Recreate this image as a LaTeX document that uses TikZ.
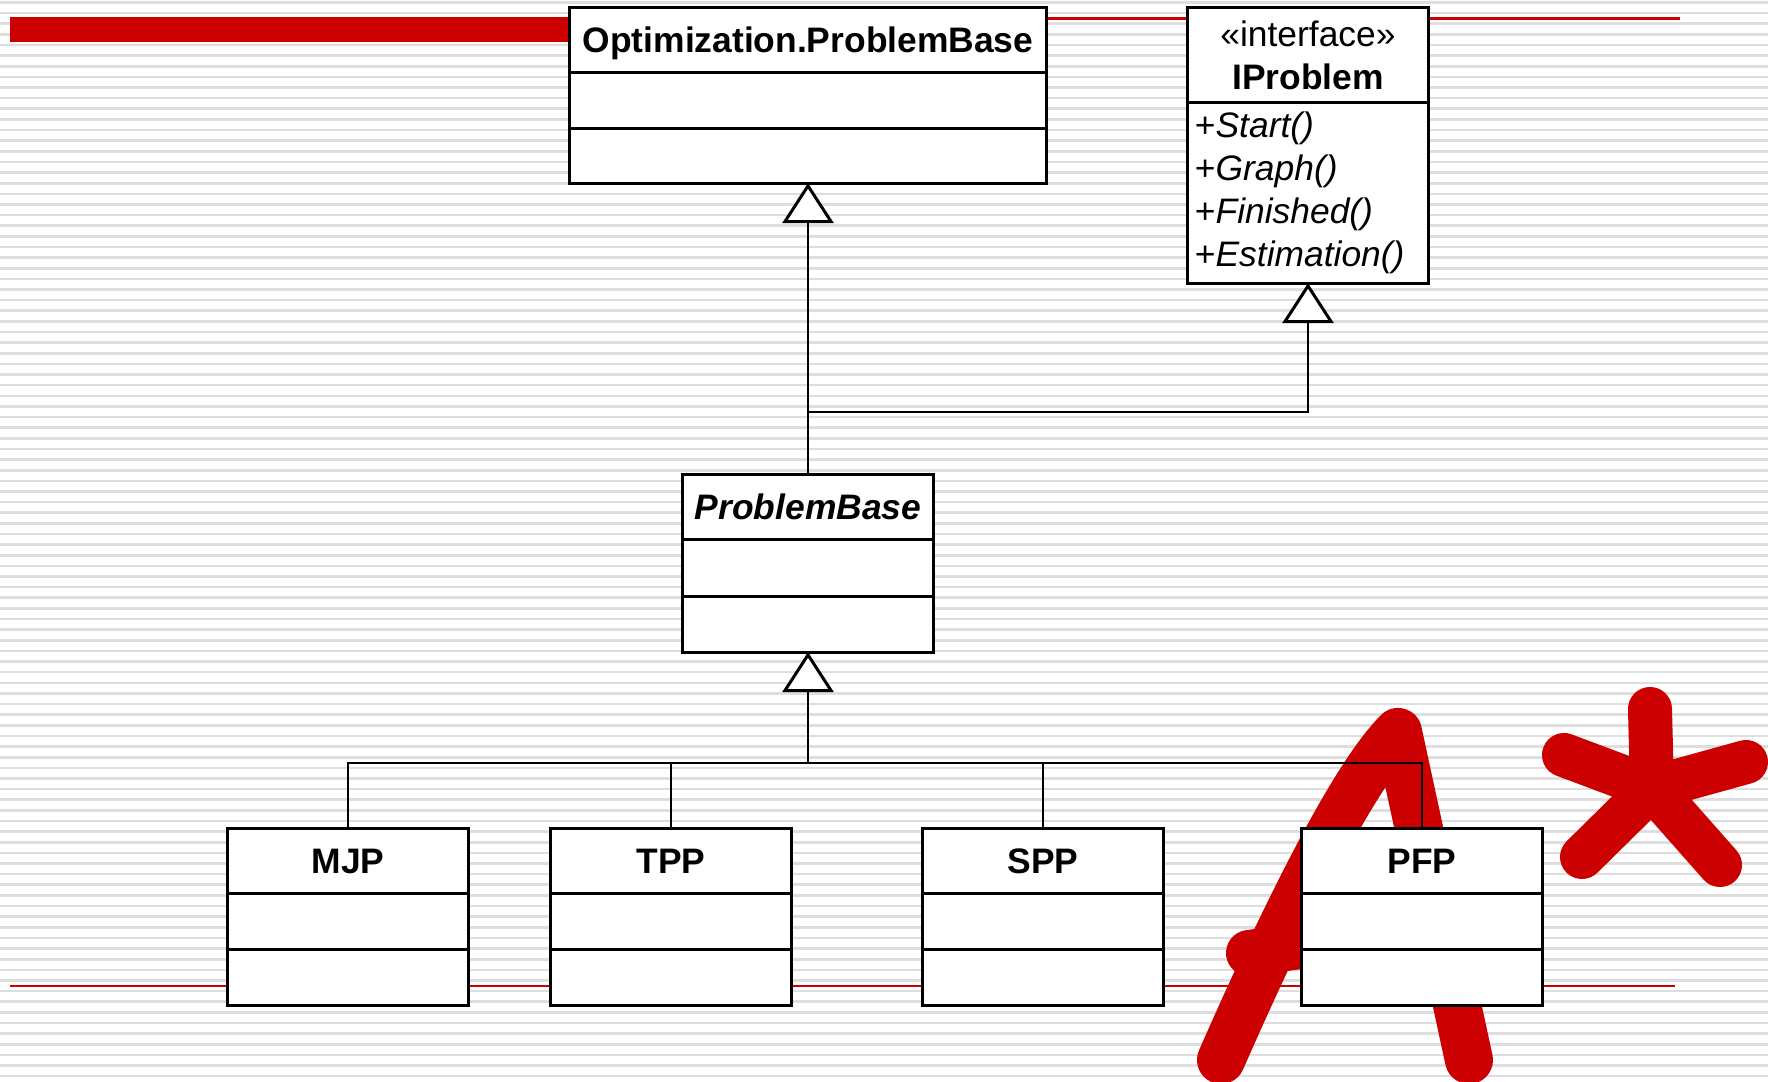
\documentclass[tikz,border=0pt]{standalone}
\usepackage{fontspec}
\setmainfont{Liberation Sans}
\usetikzlibrary{arrows.meta, positioning}
\definecolor{pptred}{RGB}{204,0,0}
\newcommand{\umlsize}{\fontsize{10.07pt}{12.2pt}\selectfont}
\tikzset{
    umlhead/.style={draw, fill=white, line width=0.03cm, inner sep=0pt, outer sep=0pt,
        minimum height=0.64cm, text depth=0pt, font=\umlsize\bfseries},
    umlpart/.style={draw, fill=white, line width=0.03cm, inner sep=0pt, outer sep=0pt,
        minimum height=0.56cm, font=\umlsize},
    link/.style={line width=0.02cm},
    gen/.style={link, -{Triangle[length=0.40cm, width=0.51cm, fill=white, line width'=0.03cm]}},
    marker/.style={draw=pptred, line width=0.44cm, line cap=round, line join=round},
    stripe/.style={draw=black!13, line width=0.026cm}
}

\begin{document}
\begin{tikzpicture}[x=0.01cm, y=-0.01cm]
        \useasboundingbox (0,0) rectangle (1768,1082);
        \fill[white] (0,0) rectangle (1768,1082);
        \foreach \k in {0,...,101}
            \draw[stripe] (0,{2.5+10.63*\k}) -- (1768,{2.5+10.63*\k});
        % title bar and the two rules
        \fill[pptred] (10,17) rectangle (600,42);
        \draw[pptred, line width=0.025cm] (600,18.5) -- (1680,18.5);
        \draw[pptred, line width=0.025cm] (10,986) -- (1675,986);
        % hand drawn A*
        \draw[marker, line width=0.48cm] (1221,1060) .. controls (1300,880) and (1360,770) .. (1398,732) -- (1469,1060);
        \draw[marker, line width=0.46cm] (1249,953) -- (1330,942);
        \draw[marker] (1652,788) -- (1650,709) (1652,788) -- (1746,762)
            (1652,788) -- (1564,755) (1652,788) -- (1582,857) (1652,788) -- (1720,865);

        \node[umlhead, minimum width=4.76cm] (opt) at (808,40) {Optimization.ProblemBase};
        \node[umlpart, minimum width=4.76cm, below=0pt of opt] (opt-a) {};
        \node[umlpart, minimum width=4.76cm, minimum height=0.55cm, below=0pt of opt-a] (opt-o) {};

        \node[umlhead, minimum width=2.4cm, minimum height=0.94cm, align=center] (iprob) at (1308,55)
            {{\mdseries «interface»}\\IProblem};
        \node[umlpart, minimum width=2.4cm, minimum height=1.81cm, text width=2.26cm, inner xsep=0.07cm,
            align=left, below=0pt of iprob] (iprob-m)
            {+\textit{Start()}\\+\textit{Graph()}\\+\textit{Finished()}\\+\textit{Estimation()}};

        \node[umlhead, minimum width=2.5cm] (pbase) at (808,507) {\itshape ProblemBase};
        \node[umlpart, minimum width=2.5cm, minimum height=0.57cm, below=0pt of pbase] (pbase-a) {};
        \node[umlpart, minimum width=2.5cm, below=0pt of pbase-a] (pbase-o) {};

        \node[umlhead, minimum width=2.4cm] (mjp) at (348,861) {MJP};
        \node[umlpart, minimum width=2.4cm, below=0pt of mjp] (mjp-a) {};
        \node[umlpart, minimum width=2.4cm, below=0pt of mjp-a] (mjp-o) {};
        \node[umlhead, minimum width=2.4cm] (tpp) at (671,861) {TPP};
        \node[umlpart, minimum width=2.4cm, below=0pt of tpp] (tpp-a) {};
        \node[umlpart, minimum width=2.4cm, below=0pt of tpp-a] (tpp-o) {};
        \node[umlhead, minimum width=2.4cm] (spp) at (1043,861) {SPP};
        \node[umlpart, minimum width=2.4cm, below=0pt of spp] (spp-a) {};
        \node[umlpart, minimum width=2.4cm, below=0pt of spp-a] (spp-o) {};
        \node[umlhead, minimum width=2.4cm] (pfp) at (1422,861) {PFP};
        \node[umlpart, minimum width=2.4cm, below=0pt of pfp] (pfp-a) {};
        \node[umlpart, minimum width=2.4cm, below=0pt of pfp-a] (pfp-o) {};

        % generalisations
        \coordinate (fork) at (808,412);
        \coordinate (bus) at (808,763);
        \draw[gen] (pbase.north) -- (opt-o.south);
        \draw[gen] (fork) -| (iprob-m.south);
        \draw[gen] (bus) -- (pbase-o.south);
        \draw[link] (mjp.north) |- (bus);
        \draw[link] (tpp.north) |- (bus);
        \draw[link] (spp.north) |- (bus);
        \draw[link] (pfp.north) |- (bus);
\end{tikzpicture}
\end{document}
